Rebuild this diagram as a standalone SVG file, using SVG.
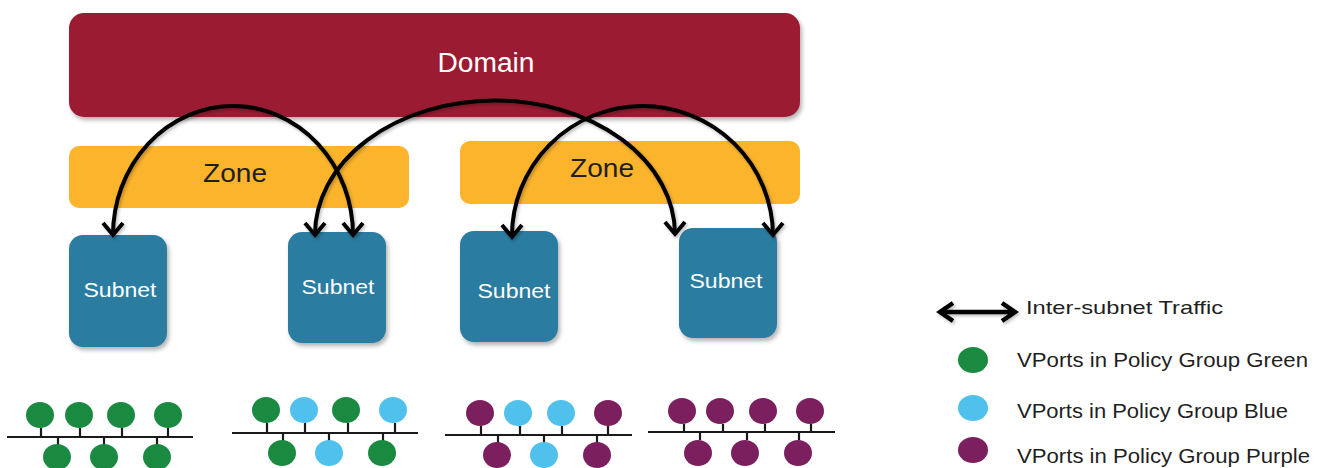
<svg xmlns="http://www.w3.org/2000/svg" width="1324" height="468" viewBox="0 0 1324 468">
<style>
.lbl{font-family:"Liberation Sans","DejaVu Sans",sans-serif}
.domain{fill:#9B1B30}
.zone{fill:#FBB42C}
.subnet{fill:#2A7CA1}
.wt{fill:#ffffff}
.dk{fill:#1f1f1f}
.g{fill:#1A8A40}
.b{fill:#4FC1EC}
.p{fill:#7B1F5E}
.bus{stroke:#1a1a1a;stroke-width:2.2;fill:none}
.arc{stroke:#000;stroke-width:4;fill:none;marker-start:url(#chev);marker-end:url(#chev)}
</style>
<defs>
<filter id="sh" x="-10%" y="-10%" width="130%" height="140%">
<feDropShadow dx="2" dy="3" stdDeviation="2" flood-color="#000" flood-opacity="0.3"/>
</filter>
<filter id="ash" filterUnits="userSpaceOnUse" x="0" y="0" width="1324" height="468">
<feDropShadow dx="1.5" dy="2" stdDeviation="1.5" flood-color="#000" flood-opacity="0.25"/>
</filter>
<marker id="chev" markerUnits="userSpaceOnUse" viewBox="-18 -18 36 36" markerWidth="36" markerHeight="36" refX="0" refY="0" orient="auto-start-reverse">
<path d="M-12,-10 L0,0 L-12,10" fill="none" stroke="#000" stroke-width="4" stroke-linejoin="miter"/>
</marker>
<marker id="chev2" markerUnits="userSpaceOnUse" viewBox="-20 -20 40 40" markerWidth="40" markerHeight="40" refX="0" refY="0" orient="auto-start-reverse">
<path d="M-13,-9 L0,0 L-13,9" fill="none" stroke="#000" stroke-width="4.5" stroke-linejoin="miter"/>
</marker>
</defs>
<rect width="1324" height="468" fill="#ffffff"/>

<g id="domain">
<rect class="domain" x="69" y="13" width="731" height="104" rx="15" filter="url(#sh)"/>
<text class="lbl wt" x="486" y="72" font-size="27" text-anchor="middle" textLength="97" lengthAdjust="spacingAndGlyphs">Domain</text>
</g>

<g id="zone1">
<rect class="zone" x="69" y="146" width="340" height="62" rx="10"/>
<text class="lbl dk" x="235" y="182" font-size="26" text-anchor="middle" textLength="64" lengthAdjust="spacingAndGlyphs">Zone</text>
</g>
<g id="zone2">
<rect class="zone" x="460" y="141" width="340" height="63" rx="10"/>
<text class="lbl dk" x="602" y="177" font-size="26" text-anchor="middle" textLength="64" lengthAdjust="spacingAndGlyphs">Zone</text>
</g>

<g id="subnet1">
<rect class="subnet" x="69" y="235" width="98" height="112" rx="14" filter="url(#sh)"/>
<text class="lbl wt" x="120" y="297" font-size="21" text-anchor="middle" textLength="73" lengthAdjust="spacingAndGlyphs">Subnet</text>
</g>
<g id="subnet2">
<rect class="subnet" x="288" y="232" width="98" height="111" rx="14" filter="url(#sh)"/>
<text class="lbl wt" x="338" y="294" font-size="21" text-anchor="middle" textLength="73" lengthAdjust="spacingAndGlyphs">Subnet</text>
</g>
<g id="subnet3">
<rect class="subnet" x="460" y="231" width="98" height="111" rx="14" filter="url(#sh)"/>
<text class="lbl wt" x="514" y="298" font-size="21" text-anchor="middle" textLength="73" lengthAdjust="spacingAndGlyphs">Subnet</text>
</g>
<g id="subnet4">
<rect class="subnet" x="679" y="228" width="98" height="110" rx="14" filter="url(#sh)"/>
<text class="lbl wt" x="726" y="288" font-size="21" text-anchor="middle" textLength="73" lengthAdjust="spacingAndGlyphs">Subnet</text>
</g>

<g id="connectors" filter="url(#ash)">
<path class="arc" d="M113,235 A120,129 0 0 1 353,235"/>
<path class="arc" d="M315,235 A180,134 0 0 1 675,234"/>
<path class="arc" d="M512,237 A130.5,130 0 0 1 773,235"/>
</g>

<g id="network1">
<path class="bus" d="M7,437 H193 M41,428 V437 M80,428 V437 M122,428 V437 M168,428 V437 M58,437 V445 M104,437 V445 M157,437 V445"/>
<ellipse class="g" cx="40" cy="415" rx="14" ry="13"/>
<ellipse class="g" cx="79" cy="415" rx="14" ry="13"/>
<ellipse class="g" cx="121" cy="415" rx="14" ry="13"/>
<ellipse class="g" cx="168" cy="415" rx="14" ry="13"/>
<ellipse class="g" cx="57" cy="457" rx="14" ry="13"/>
<ellipse class="g" cx="104" cy="457" rx="14" ry="13"/>
<ellipse class="g" cx="157" cy="457" rx="14" ry="13"/>
</g>

<g id="network2">
<path class="bus" d="M232,433 H418 M267,423 V433 M305,423 V433 M348,423 V433 M395,423 V433 M283,433 V441 M329,433 V441 M383,433 V441"/>
<ellipse class="g" cx="266" cy="410" rx="14" ry="13"/>
<ellipse class="b" cx="304" cy="410" rx="14" ry="13"/>
<ellipse class="g" cx="346" cy="410" rx="14" ry="13"/>
<ellipse class="b" cx="393" cy="410" rx="14" ry="13"/>
<ellipse class="g" cx="282" cy="453" rx="14" ry="13"/>
<ellipse class="b" cx="329" cy="453" rx="14" ry="13"/>
<ellipse class="g" cx="382" cy="453" rx="14" ry="13"/>
</g>

<g id="network3">
<path class="bus" d="M445,435 H632 M481,426 V435 M520,426 V435 M562,426 V435 M608,426 V435 M498,435 V443 M544,435 V443 M597,435 V443"/>
<ellipse class="p" cx="480" cy="413" rx="14" ry="13"/>
<ellipse class="b" cx="518" cy="413" rx="14" ry="13"/>
<ellipse class="b" cx="561" cy="413" rx="14" ry="13"/>
<ellipse class="p" cx="608" cy="413" rx="14" ry="13"/>
<ellipse class="p" cx="497" cy="455" rx="14" ry="13"/>
<ellipse class="b" cx="544" cy="455" rx="14" ry="13"/>
<ellipse class="p" cx="597" cy="455" rx="14" ry="13"/>
</g>

<g id="network4">
<path class="bus" d="M648,432 H835 M684,424 V432 M723,424 V432 M765,424 V432 M811,424 V432 M700,432 V440 M747,432 V440 M799,432 V440"/>
<ellipse class="p" cx="682" cy="411" rx="14" ry="13"/>
<ellipse class="p" cx="720" cy="411" rx="14" ry="13"/>
<ellipse class="p" cx="763" cy="411" rx="14" ry="13"/>
<ellipse class="p" cx="810" cy="411" rx="14" ry="13"/>
<ellipse class="p" cx="698" cy="453" rx="14" ry="13"/>
<ellipse class="p" cx="745" cy="453" rx="14" ry="13"/>
<ellipse class="p" cx="798" cy="453" rx="14" ry="13"/>
</g>

<g id="legend">
<g id="legend-traffic" filter="url(#ash)">
<path d="M940,312 H1015" stroke="#000" stroke-width="4.5" fill="none" marker-start="url(#chev2)" marker-end="url(#chev2)"/>
</g>
<text class="lbl dk" x="1026" y="314" font-size="19" textLength="197" lengthAdjust="spacingAndGlyphs">Inter-subnet Traffic</text>
<ellipse class="g" cx="973" cy="360" rx="15" ry="13"/>
<text class="lbl dk" x="1017" y="367" font-size="21" textLength="291" lengthAdjust="spacingAndGlyphs">VPorts in Policy Group Green</text>
<ellipse class="b" cx="973" cy="408" rx="15" ry="13"/>
<text class="lbl dk" x="1017" y="418" font-size="21" textLength="271" lengthAdjust="spacingAndGlyphs">VPorts in Policy Group Blue</text>
<ellipse class="p" cx="973" cy="450" rx="15" ry="13"/>
<text class="lbl dk" x="1017" y="463" font-size="21" textLength="293" lengthAdjust="spacingAndGlyphs">VPorts in Policy Group Purple</text>
</g>
</svg>
